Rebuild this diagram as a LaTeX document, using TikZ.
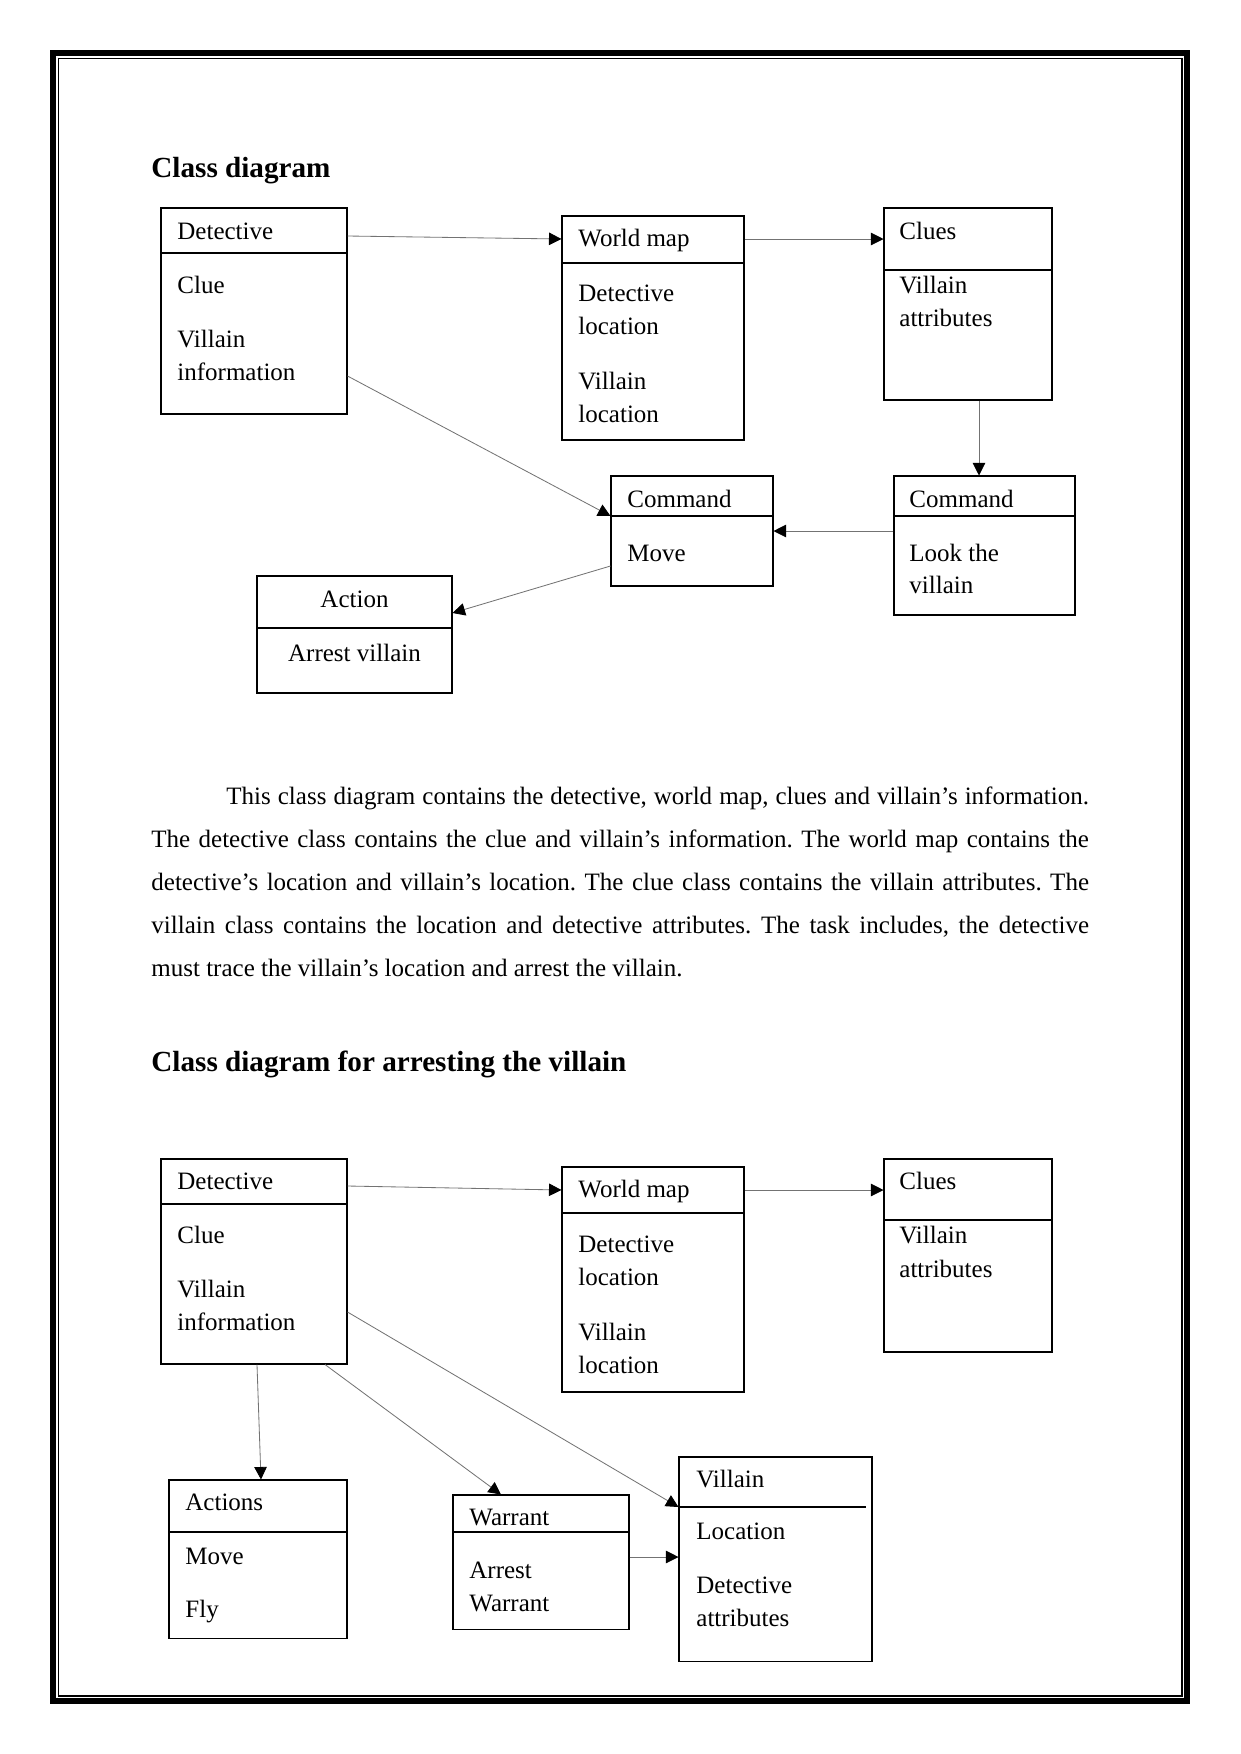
\documentclass[tikz,border=0pt]{standalone}
\usepackage{fontspec}
\setmainfont{Liberation Serif}
\usetikzlibrary{arrows.meta,fit}
\begin{document}
\begin{tikzpicture}[x=0.48pt,y=-0.48pt,
  cls/.style={draw, line width=0.5pt, inner sep=0pt},
  sepline/.style={line width=0.5pt},
  lbl/.style={anchor=base west, inner sep=0pt, font=\fontsize{12}{14}\selectfont},
  lblc/.style={anchor=base, inner sep=0pt, font=\fontsize{12}{14}\selectfont},
  head/.style={anchor=base west, inner sep=0pt, font=\fontsize{14}{16}\bfseries\selectfont},
  conn/.style={draw=black!55, line width=0.4pt, -{Triangle[length=6pt,width=6pt,black]}}]
\useasboundingbox (0,0) rectangle (1241,1754);
% page frame
\draw[line width=2.88pt] (53,53) rectangle (1187,1701);
\draw[line width=0.6pt] (58.5,58.5) rectangle (1182,1696);

% ---------- first diagram ----------
\node[head] (h1) at (151,177) {Class diagram};

\node[cls, fit={(161,208) (347,414)}] (D1) {};
\draw[sepline] (D1.west |- 0,253) -- (D1.east |- 0,253);
\node[lbl] (D1a) at (177,239) {Detective};
\node[lbl] (D1b) at (177,293) {Clue};
\node[lbl] (D1c) at (177,347) {Villain};
\node[lbl] (D1d) at (177,380) {information};

\node[cls, fit={(562,216) (744,440)}] (W1) {};
\draw[sepline] (W1.west |- 0,263) -- (W1.east |- 0,263);
\node[lbl] (W1a) at (578,246) {World map};
\node[lbl] (W1b) at (578,301) {Detective};
\node[lbl] (W1c) at (578,334) {location};
\node[lbl] (W1d) at (578,389) {Villain};
\node[lbl] (W1e) at (578,422) {location};

\node[cls, fit={(884,208) (1052,400)}] (C1) {};
\draw[sepline] (C1.west |- 0,270) -- (C1.east |- 0,270);
\node[lbl] (C1a) at (899,239) {Clues};
\node[lbl] (C1b) at (899,293) {Villain};
\node[lbl] (C1c) at (899,326) {attributes};

\node[cls, fit={(611,476) (773,586)}] (M1) {};
\draw[sepline] (M1.west |- 0,516) -- (M1.east |- 0,516);
\node[lbl] (M1a) at (627,507) {Command};
\node[lbl] (M1b) at (627,561) {Move};

\node[cls, fit={(894,476) (1075,615)}] (M2) {};
\draw[sepline] (M2.west |- 0,516) -- (M2.east |- 0,516);
\node[lbl] (M2a) at (909,507) {Command};
\node[lbl] (M2b) at (909,561) {Look the};
\node[lbl] (M2c) at (909,593) {villain};

\node[cls, fit={(257,576) (452,693)}] (A1) {};
\draw[sepline] (A1.west |- 0,628) -- (A1.east |- 0,628);
\node[lblc] (A1a) at (354.5,607) {Action};
\node[lblc] (A1b) at (354.5,661) {Arrest villain};

\draw[conn] (D1.east |- 0,236) -- (W1.west |- 0,239);
\draw[conn] (W1.east |- 0,239) -- (C1.west |- 0,239);
\draw[conn] (C1.south -| 979,0) -- (M2.north -| 979,0);
\draw[conn] (M2.west |- 0,531) -- (M1.east |- 0,531);
\draw[conn] (D1.east |- 0,376) -- (M1.west |- 0,516);
\draw[conn] (M1.west |- 0,566) -- (A1.east |- 0,613);

% ---------- text ----------
\node[anchor=base west, inner sep=0pt, text width=450pt, align=justify,
      font=\fontsize{12}{20.64}\selectfont] (body) at (151,804)
{\frenchspacing\hyphenpenalty=10000\tolerance=9999\hspace*{36pt}This class diagram contains the detective, world map, clues and villain’s information.\linebreak
The detective class contains the clue and villain’s information. The world map contains the\linebreak
detective’s location and villain’s location. The clue class contains the villain attributes. The\linebreak
villain class contains the location and detective attributes. The task includes, the detective\linebreak
must trace the villain’s location and arrest the villain.};

\node[head] (h2) at (151,1071) {Class diagram for arresting the villain};

% ---------- second diagram ----------
\node[cls, fit={(161,1159) (347,1364)}] (D2) {};
\draw[sepline] (D2.west |- 0,1204) -- (D2.east |- 0,1204);
\node[lbl] (D2a) at (177,1189) {Detective};
\node[lbl] (D2b) at (177,1243) {Clue};
\node[lbl] (D2c) at (177,1297) {Villain};
\node[lbl] (D2d) at (177,1330) {information};

\node[cls, fit={(562,1167) (744,1392)}] (W2) {};
\draw[sepline] (W2.west |- 0,1213) -- (W2.east |- 0,1213);
\node[lbl] (W2a) at (578,1197) {World map};
\node[lbl] (W2b) at (578,1252) {Detective};
\node[lbl] (W2c) at (578,1285) {location};
\node[lbl] (W2d) at (578,1340) {Villain};
\node[lbl] (W2e) at (578,1373) {location};

\node[cls, fit={(884,1159) (1052,1352)}] (C2) {};
\draw[sepline] (C2.west |- 0,1220) -- (C2.east |- 0,1220);
\node[lbl] (C2a) at (899,1189) {Clues};
\node[lbl] (C2b) at (899,1243) {Villain};
\node[lbl] (C2c) at (899,1277) {attributes};

\node[cls, fit={(169,1480) (347,1638)}] (AC2) {};
\draw[sepline] (AC2.west |- 0,1532) -- (AC2.east |- 0,1532);
\node[lbl] (AC2a) at (185,1510) {Actions};
\node[lbl] (AC2b) at (185,1564) {Move};
\node[lbl] (AC2c) at (185,1617) {Fly};

\node[cls, fit={(453,1495) (629,1629)}] (WR2) {};
\draw[sepline] (WR2.west |- 0,1532) -- (WR2.east |- 0,1532);
\node[lbl] (WR2a) at (469,1525) {Warrant};
\node[lbl] (WR2b) at (469,1578) {Arrest};
\node[lbl] (WR2c) at (469,1611) {Warrant};

\node[cls, fit={(679,1457) (872,1661)}] (V2) {};
\draw[sepline] (V2.west |- 0,1507) -- (866,1507);
\node[lbl] (V2a) at (696,1487) {Villain};
\node[lbl] (V2b) at (696,1539) {Location};
\node[lbl] (V2c) at (696,1593) {Detective};
\node[lbl] (V2d) at (696,1626) {attributes};

\draw[conn] (D2.east |- 0,1186) -- (W2.west |- 0,1190);
\draw[conn] (W2.east |- 0,1190) -- (C2.west |- 0,1190);
\draw[conn] (D2.south -| 257,0) -- (AC2.north -| 261,0);
\draw[conn] (D2.south -| 325,0) -- (WR2.north -| 501,0);
\draw[conn] (D2.east |- 0,1312) -- (V2.west |- 0,1507);
\draw[conn] (WR2.east |- 0,1557) -- (V2.west |- 0,1557);
\end{tikzpicture}
\end{document}
